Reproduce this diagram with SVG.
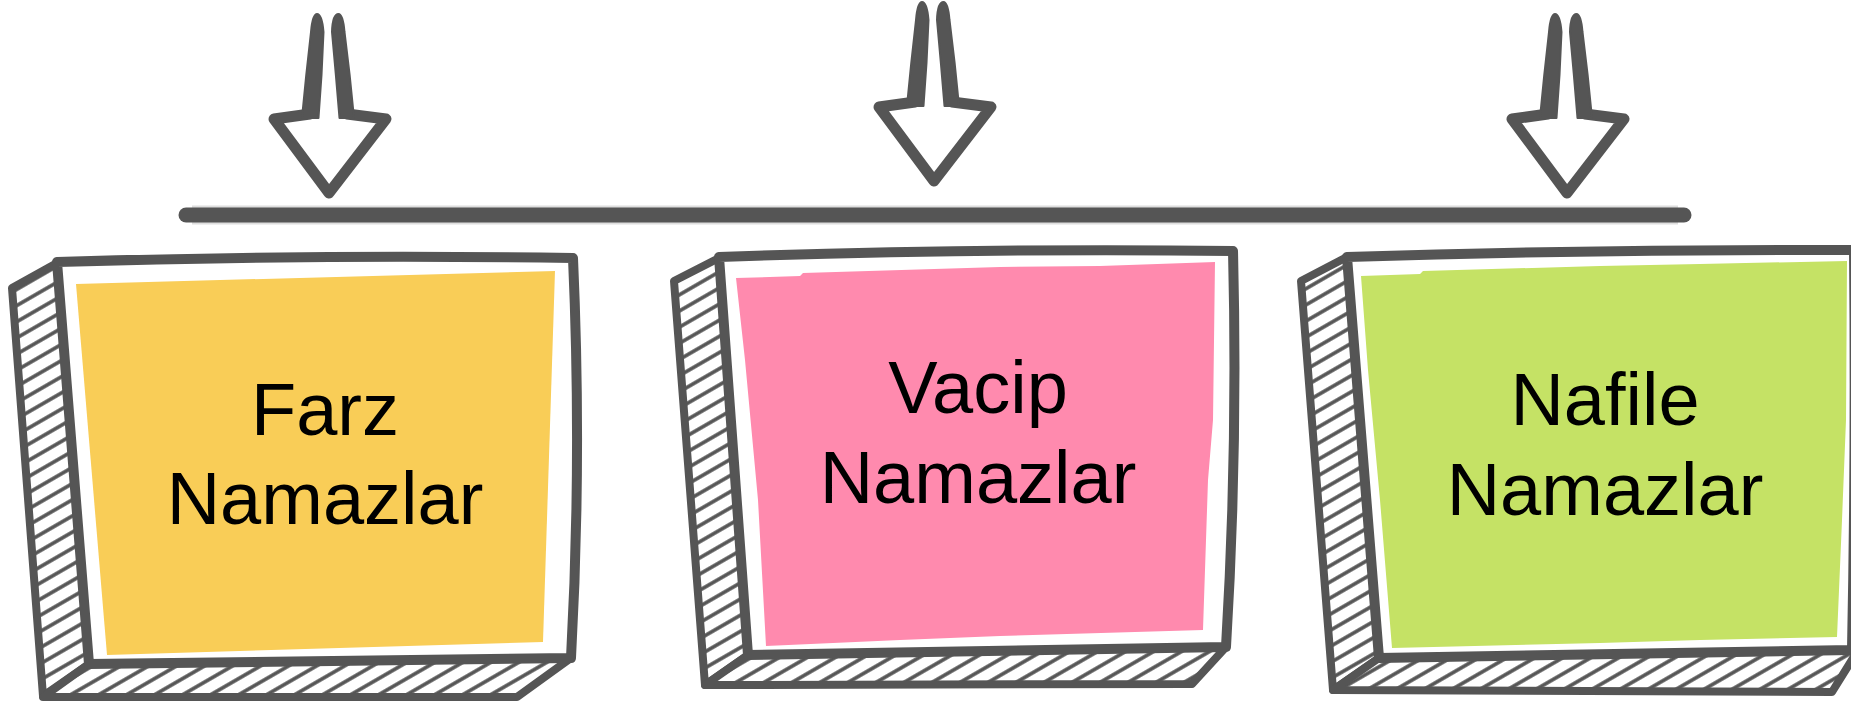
<svg xmlns="http://www.w3.org/2000/svg" width="1851" height="701" viewBox="0 0 1851 701">
<defs>
<pattern id="hatch" patternUnits="userSpaceOnUse" width="14" height="14" patternTransform="rotate(-30)">
<rect width="14" height="14" fill="#fff"/>
<line x1="0" y1="7" x2="14" y2="7" stroke="#555" stroke-width="3.6"/>
</pattern>
<g id="arrow">
<path class="head" d="M310,114 L274,119 L329,193 L386,119 L347,114"/>
<path class="shaft" d="M302,118 Q306,75 311,32 Q312.5,14 317,14 Q322,14 323.5,32 Q322,75 318.5,118 Z"/>
<path class="shaft" d="M339.5,118 Q336,75 332,32 Q332.5,14 338.5,14 Q343,14 344.5,32 Q350,75 354,118 Z"/>
</g>
</defs>
<style>
.face{fill:url(#hatch);stroke:#555;stroke-width:8;stroke-linejoin:round}
.front{fill:#fff;stroke:#555;stroke-width:10;stroke-linejoin:round}
.lbl{font-family:"Liberation Sans",Arial,sans-serif;font-size:74px;fill:#000;text-anchor:middle}
.head{fill:#fff;stroke:#555;stroke-width:11;stroke-linejoin:round;stroke-linecap:round}
.shaft{fill:#555;stroke:#555;stroke-width:2;stroke-linejoin:round}
</style>
<rect width="1851" height="701" fill="#fff"/>
<g id="connectors">
<line x1="192" y1="215" x2="1678" y2="215" stroke="#dedede" stroke-width="19"/>
<line x1="186" y1="215" x2="1684" y2="215" stroke="#555" stroke-width="15" stroke-linecap="round"/>
<use href="#arrow"/>
<use href="#arrow" transform="translate(605,-12)"/>
<use href="#arrow" transform="translate(1238,0)"/>
</g>
<g id="farz">
<path class="face" d="M57,263 L12,288 L43,696 L89,664 Z"/>
<path class="face" d="M89,664 L571,658 L517,697 L43,697 Z"/>
<path class="front" d="M57,262 Q320,254 573,258 Q582,460 571,658 Q330,661 89,664 Z"/>
<polygon points="76,284 555,271 543,642 107,655" fill="#F9CD57"/>
<text class="lbl" x="325" y="435">Farz</text>
<text class="lbl" x="325" y="524">Namazlar</text>
</g>
<g id="vacip">
<path class="face" d="M719,258 L674,281 L705,685 L748,655 Z"/>
<path class="face" d="M748,655 L1226,647 L1192,684 L705,685 Z"/>
<path class="front" d="M719,257 Q980,248 1233,251 Q1238,450 1226,647 Q990,651 748,655 Z"/>
<polygon points="736,278 800,276 803,273 1000,267 1100,266 1215,262 1213,420 1208,480 1203,630 1000,636 900,640 766,646 758,500 745,360" fill="#FF8AAE"/>
<text class="lbl" x="978" y="413">Vacip</text>
<text class="lbl" x="978" y="503">Namazlar</text>
</g>
<g id="nafile">
<path class="face" d="M1347,257 L1301,281 L1333,690 L1379,658 Z"/>
<path class="face" d="M1379,658 L1858,650 L1832,692 L1333,690 Z"/>
<path class="front" d="M1347,257 Q1600,249 1854,250 Q1856,450 1852,650 Q1615,654 1379,658 Z"/>
<polygon points="1361,276 1420,274 1423,271 1600,266 1700,264 1847,261 1846,420 1842,520 1837,637 1700,640 1600,643 1392,648 1380,500 1368,370" fill="#C5E265"/>
<text class="lbl" x="1605" y="425">Nafile</text>
<text class="lbl" x="1605" y="515">Namazlar</text>
</g>
</svg>
